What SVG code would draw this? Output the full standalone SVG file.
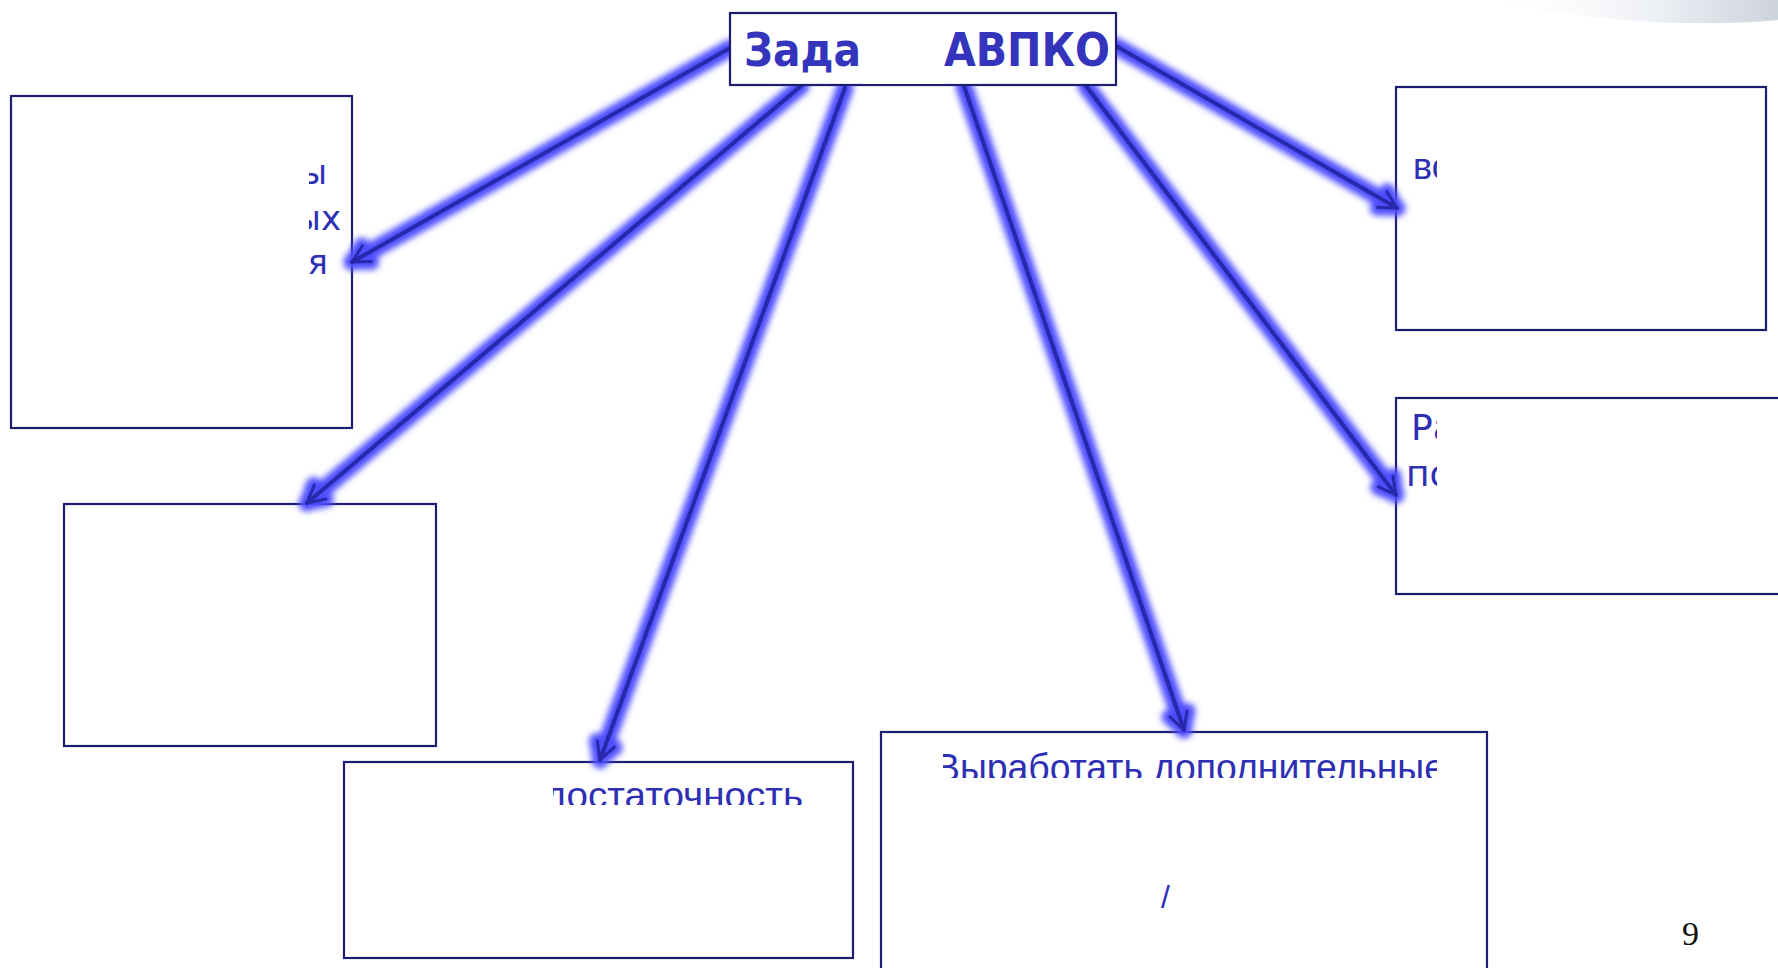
<svg xmlns="http://www.w3.org/2000/svg" width="1778" height="968" viewBox="0 0 1778 968">
  <style>
    .box { fill: #ffffff; stroke: #1c1c70; stroke-width: 2.2; }
    .txt { font-family: "DejaVu Sans", "Liberation Sans", sans-serif; fill: #2f2fb4; }
    .txt2 { font-family: "Liberation Sans", "DejaVu Sans", sans-serif; fill: #2f2fb4; }
    .title { font-family: "DejaVu Sans", "Liberation Sans", sans-serif; font-weight: bold; fill: #3434bc; font-size: 46px; }
    .glow { fill: none; stroke: #4d4dff; stroke-width: 17; stroke-linecap: round; }
    .core { fill: none; stroke: #2828aa; stroke-width: 4; stroke-linecap: round; }
  </style>
  <defs>
    <linearGradient id="swoosh" x1="0" y1="0" x2="1" y2="0">
      <stop offset="0" stop-color="#ffffff" stop-opacity="0"/>
      <stop offset="0.6" stop-color="#eceff4"/>
      <stop offset="1" stop-color="#cdd3dd"/>
    </linearGradient>
    <filter id="blur" x="-10%" y="-10%" width="120%" height="120%">
      <feGaussianBlur stdDeviation="3.4"/>
    </filter>
    <marker id="hGlow" markerUnits="userSpaceOnUse" markerWidth="50" markerHeight="50" viewBox="-25 -25 50 50" refX="0" refY="0" orient="auto" overflow="visible">
      <path d="M-17,-10 L0,0 L-17,10" fill="none" stroke="#4d4dff" stroke-width="15" stroke-linecap="round" stroke-linejoin="round"/>
    </marker>
    <marker id="hCore" markerUnits="userSpaceOnUse" markerWidth="50" markerHeight="50" viewBox="-25 -25 50 50" refX="0" refY="0" orient="auto" overflow="visible">
      <path d="M-17,-9 L0,0 L-17,9" fill="none" stroke="#2828aa" stroke-width="3" stroke-linecap="round" stroke-linejoin="round"/>
    </marker>
    <clipPath id="clipL"><rect x="309" y="93" width="43" height="214"/></clipPath>
    <clipPath id="clipR1"><rect x="1397" y="88" width="40" height="240"/></clipPath>
    <clipPath id="clipR2"><rect x="1397" y="399" width="40" height="194"/></clipPath>
    <clipPath id="clipB1"><rect x="553" y="763" width="300" height="42"/></clipPath>
    <clipPath id="clipB2"><rect x="943" y="733" width="494" height="45"/></clipPath>
  </defs>

  <rect width="1778" height="968" fill="#ffffff"/>
  <path d="M1480,0 Q1650,32 1778,20 L1778,0 Z" fill="url(#swoosh)"/>

  <g id="node-left-top">
    <rect class="box" x="11" y="96" width="341" height="332"/>
    <g clip-path="url(#clipL)">
      <text class="txt" font-size="34" x="327" y="184" text-anchor="end">ы</text>
      <text class="txt" font-size="34" x="341" y="230" text-anchor="end">ых</text>
      <text class="txt" font-size="34" x="328" y="274" text-anchor="end">я</text>
    </g>
  </g>

  <g id="node-left-bottom">
    <rect class="box" x="64" y="504" width="372" height="242"/>
  </g>

  <g id="node-bottom-mid">
    <rect class="box" x="344" y="762" width="509" height="196"/>
    <g clip-path="url(#clipB1)">
      <text class="txt2" font-size="36" x="544" y="808" textLength="259" lengthAdjust="spacingAndGlyphs">достаточность</text>
    </g>
  </g>

  <g id="node-bottom-right">
    <rect class="box" x="881" y="732" width="606" height="250"/>
    <g clip-path="url(#clipB2)">
      <text class="txt2" font-size="38" x="935" y="781" textLength="510" lengthAdjust="spacingAndGlyphs">Выработать дополнительные</text>
    </g>
    <text class="txt2" font-size="32" x="1161" y="908">/</text>
  </g>

  <g id="node-right-top">
    <rect class="box" x="1396" y="87" width="370" height="243"/>
    <g clip-path="url(#clipR1)">
      <text class="txt2" font-size="36" x="1413" y="179">вс</text>
    </g>
  </g>

  <g id="node-right-bottom">
    <rect class="box" x="1396" y="398" width="400" height="196"/>
    <g clip-path="url(#clipR2)">
      <text class="txt" font-size="36" x="1411" y="440">Ра</text>
      <text class="txt" font-size="36" x="1406" y="486">по</text>
    </g>
  </g>

  <g id="connectors">
    <g filter="url(#blur)">
      <line class="glow" x1="730" y1="48" x2="352" y2="262" marker-end="url(#hGlow)"/>
      <line class="glow" x1="801" y1="86" x2="307" y2="503" marker-end="url(#hGlow)"/>
      <line class="glow" x1="845" y1="88" x2="600" y2="760" marker-end="url(#hGlow)"/>
      <line class="glow" x1="964" y1="86" x2="1184" y2="730" marker-end="url(#hGlow)"/>
      <line class="glow" x1="1086" y1="86" x2="1396" y2="495" marker-end="url(#hGlow)"/>
      <line class="glow" x1="1116" y1="46" x2="1397" y2="208" marker-end="url(#hGlow)"/>
    </g>
    <line class="core" x1="730" y1="48" x2="352" y2="262" marker-end="url(#hCore)"/>
    <line class="core" x1="801" y1="86" x2="307" y2="503" marker-end="url(#hCore)"/>
    <line class="core" x1="845" y1="88" x2="600" y2="760" marker-end="url(#hCore)"/>
    <line class="core" x1="964" y1="86" x2="1184" y2="730" marker-end="url(#hCore)"/>
    <line class="core" x1="1086" y1="86" x2="1396" y2="495" marker-end="url(#hCore)"/>
    <line class="core" x1="1116" y1="46" x2="1397" y2="208" marker-end="url(#hCore)"/>
  </g>

  <g id="node-title">
    <rect class="box" x="730" y="13" width="386" height="72"/>
    <rect x="863" y="28" width="82" height="56" fill="#ffffff"/>
    <text class="title" x="744" y="66" textLength="117" lengthAdjust="spacingAndGlyphs">Зада</text>
    <text class="title" x="944" y="66" textLength="166" lengthAdjust="spacingAndGlyphs">АВПКО</text>
  </g>

  <text x="1682" y="945" font-family="Liberation Serif, serif" font-size="34" fill="#111111">9</text>
</svg>
